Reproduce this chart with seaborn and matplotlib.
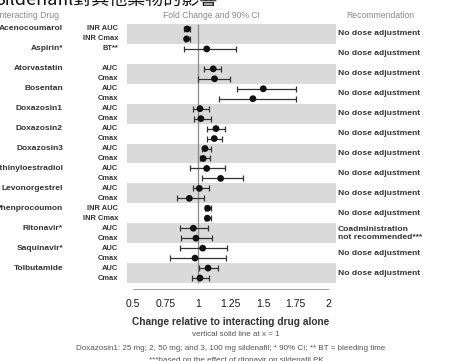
import numpy as np
import pandas as pd
import matplotlib
matplotlib.use("Agg")
import matplotlib.pyplot as plt
import matplotlib.transforms as mtransforms
import seaborn as sns

# === data ===
drugs = ["Acenocoumarol", "Aspirin*", "Atorvastatin", "Bosentan", "Doxazosin1",
         "Doxazosin2", "Doxazosin3", "Ethinyloestradiol", "Levonorgestrel",
         "Phenprocoumon", "Ritonavir*", "Saquinavir*", "Tolbutamide"]
measures = [["INR AUC", "INR Cmax"], ["BT**"], ["AUC", "Cmax"], ["AUC", "Cmax"],
            ["AUC", "Cmax"], ["AUC", "Cmax"], ["AUC", "Cmax"], ["AUC", "Cmax"],
            ["AUC", "Cmax"], ["INR AUC", "INR Cmax"], ["AUC", "Cmax"],
            ["AUC", "Cmax"], ["AUC", "Cmax"]]
fold = [[0.915, 0.91], [1.065], [1.115, 1.125], [1.50, 1.42], [1.013, 1.02],
        [1.136, 1.123], [1.052, 1.038], [1.065, 1.172], [1.008, 0.931],
        [1.072, 1.07], [0.962, 0.982], [1.034, 0.975], [1.075, 1.013]]
ci_low = [[0.89, 0.895], [0.89], [1.045, 1.00], [1.295, 1.16], [0.957, 0.967],
          [1.07, 1.07], [1.026, 1.013], [0.94, 1.026], [0.957, 0.833],
          [1.05, 1.05], [0.86, 0.867], [0.86, 0.782], [1.005, 0.954]]
ci_high = [[0.94, 0.935], [1.29], [1.175, 1.245], [1.75, 1.75], [1.085, 1.095],
           [1.203, 1.185], [1.098, 1.09], [1.208, 1.346], [1.085, 1.044],
           [1.095, 1.095], [1.077, 1.108], [1.218, 1.21], [1.152, 1.08]]
recommend = ["No dose adjustment"] * 10 + ["Coadministration\nnot recommended***"] + \
            ["No dose adjustment"] * 2
xticks = [0.5, 0.75, 1, 1.25, 1.5, 1.75, 2]
xtick_labels = ["0.5", "0.75", "1", "1.25", "1.5", "1.75", "2"]

rows = []
for k, d in enumerate(drugs):
    for j, m in enumerate(measures[k]):
        rows.append({"drug": d, "measure": m, "slot": 2 * k + j,
                     "fold": fold[k][j], "lo": ci_low[k][j], "hi": ci_high[k][j]})
df = pd.DataFrame(rows)

sns.set_theme(style="white")
plt.rcParams["font.family"] = ["Liberation Sans", "Noto Sans CJK TC"]

W, H = 451, 361
fig = plt.figure(figsize=(W / 100, H / 100), dpi=100)
ax = fig.add_axes([127 / W, 1 - 289 / H, 209 / W, 266 / H])

# alternating bands
for k in range(0, len(drugs), 2):
    ax.axhspan(2 * k - 0.5, 2 * k + 1.5, color="#dadada", lw=0, zorder=0)
ax.vlines(1, -0.5, 2 * len(drugs) - 0.5, color="#8a8a8a", lw=0.9, zorder=1)

ax.errorbar(df["fold"], df["slot"], xerr=[df["fold"] - df["lo"], df["hi"] - df["fold"]],
            fmt="none", ecolor="#333333", elinewidth=0.9, capsize=2.2, capthick=0.9, zorder=2)
sns.scatterplot(data=df, x="fold", y="slot", color="#111111", s=24, edgecolor="none",
                ax=ax, zorder=3, legend=False)

ax.set_xlim(0.452, 2.059)
ax.set_ylim(26.1, -0.6)
ax.set_yticks([])
ax.set_xticks(xticks)
ax.set_xticklabels(xtick_labels, fontsize=7.5, color="#1a1a1a")
ax.tick_params(axis="x", direction="in", length=4, width=0.8, color="#999999", pad=7)
for s in ["left", "top", "right"]:
    ax.spines[s].set_visible(False)
ax.spines["bottom"].set_bounds(0.5, 2)
ax.spines["bottom"].set_color("#aaaaaa")
ax.spines["bottom"].set_linewidth(0.8)
ax.set_xlabel("")
ax.set_ylabel("")

# row labels
tr = mtransforms.blended_transform_factory(fig.transFigure, ax.transData)
for _, r in df.iterrows():
    ax.text(118 / W, r["slot"], r["measure"], transform=tr, ha="right", va="center",
            fontsize=5.4, fontweight="bold", color="#333333")
for k, d in enumerate(drugs):
    ax.text(63 / W, 2 * k, d, transform=tr, ha="right", va="center",
            fontsize=6, fontweight="bold", color="#333333")
    ax.text(338 / W, 2 * k + 0.5, recommend[k], transform=tr, ha="left", va="center",
            fontsize=6.1, fontweight="bold", color="#333333", linespacing=1.25)

# headers
fig.text(-3 / W, 1 - 16 / H, "Interacting Drug", fontsize=6.2, color="#8a8a8a", va="center")
fig.text(211 / W, 1 - 16 / H, "Fold Change and 90% CI", fontsize=6.2, color="#8a8a8a",
         ha="center", va="center")
fig.text(380 / W, 1 - 16 / H, "Recommendation", fontsize=6.2, color="#8a8a8a",
         ha="center", va="center")

# title (cut at the top in the reference)
fig.text(-6 / W, 1 - 9 / H, "Sildenafil對其他藥物的影響", fontsize=13, color="#111111",
         ha="left", va="bottom", family=["Noto Sans CJK TC", "DejaVu Sans"])

# footer
fig.text(231 / W, 1 - 322 / H, "Change relative to interacting drug alone", fontsize=7.3,
         fontweight="bold", color="#333333", ha="center", va="center")
fig.text(236 / W, 1 - 335 / H, "vertical solid line at x = 1", fontsize=5.8,
         color="#555555", ha="center", va="center")
fig.text(231 / W, 1 - 348 / H,
         "Doxazosin1: 25 mg; 2, 50 mg; and 3, 100 mg sildenafil; * 90% CI; ** BT = bleeding time",
         fontsize=5.8, color="#555555", ha="center", va="center")
fig.text(236 / W, 1 - 361 / H, "***based on the effect of ritonavir on sildenafil PK",
         fontsize=5.8, color="#555555", ha="center", va="center")

fig.savefig("out.png", dpi=100)
